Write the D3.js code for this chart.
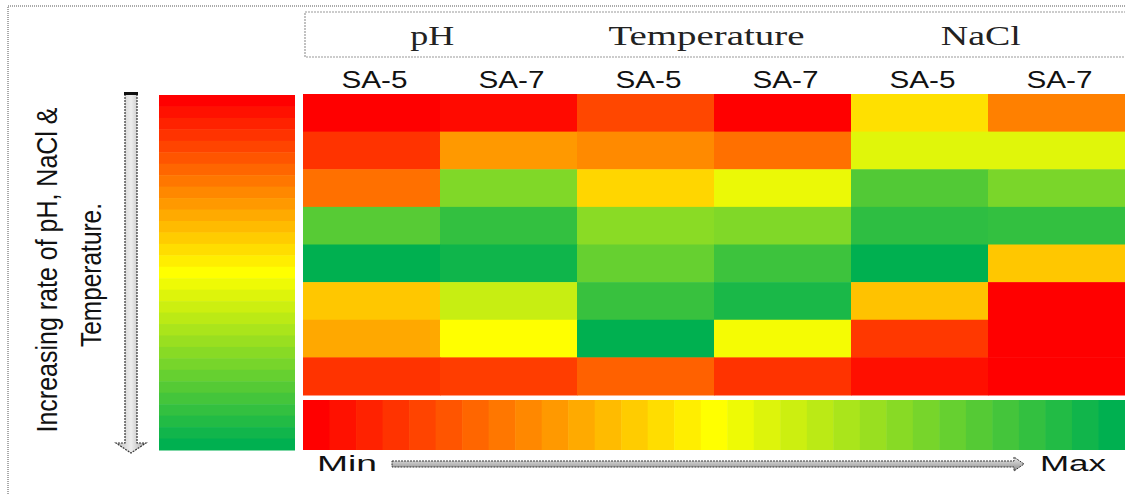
<!DOCTYPE html>
<html>
<head>
<meta charset="utf-8">
<script src="https://cdn.jsdelivr.net/npm/d3@7"></script>
<style>
  body { margin: 0; background: #fff; }
  svg { display: block; }
</style>
</head>
<body>
<svg id="drawing_region"></svg>
<script>
// treatments and strains (columns)
const groups = ["pH", "Temperature", "NaCl"];
const strains = ["SA-5", "SA-7"];
const columns = ["pH|SA-5", "pH|SA-7", "Temperature|SA-5", "Temperature|SA-7", "NaCl|SA-5", "NaCl|SA-7"];
const rows = ["r1", "r2", "r3", "r4", "r5", "r6", "r7", "r8"];

const row1 = [0.00, 0.02, 0.14, 0.00, 0.44, 0.25];
const row2 = [0.10, 0.30, 0.27, 0.22, 0.56, 0.56];
const row3 = [0.22, 0.75, 0.42, 0.54, 0.84, 0.76];
const row4 = [0.83, 0.90, 0.73, 0.75, 0.91, 0.90];
const row5 = [1.00, 0.97, 0.80, 0.88, 1.00, 0.39];
const row6 = [0.39, 0.61, 0.89, 0.95, 0.38, 0.00];
const row7 = [0.33, 0.50, 1.00, 0.52, 0.11, 0.00];
const row8 = [0.10, 0.12, 0.19, 0.10, 0.03, 0.00];
const values = [row1, row2, row3, row4, row5, row6, row7, row8];

// legend
const legendSteps = 31;
const yAxisLabel = ["Increasing rate of pH, NaCl &", "Temperature."];
const minLabel = "Min";
const maxLabel = "Max";

const W = 1125, H = 495;
const svg = d3.select("#drawing_region").attr("width", W).attr("height", H);

const color = d3.scaleLinear()
    .domain([0, 0.5, 1])
    .range(["#ff0000", "#ffff00", "#00b050"]);

// outer dotted frame (only top / left visible)
svg.append("rect")
    .attr("x", 8).attr("y", 6)
    .attr("width", W + 20).attr("height", H + 20)
    .attr("fill", "none")
    .attr("stroke", "#555")
    .attr("stroke-width", 1)
    .attr("stroke-dasharray", "1,1");

// heatmap
const xscale = d3.scaleBand().domain(columns).range([303, 1125]);
const yscale = d3.scaleBand().domain(rows).range([94, 395]);

const cells = [];
values.forEach((r, i) => r.forEach((v, j) => cells.push({ row: rows[i], col: columns[j], v: v })));

svg.append("g").selectAll("rect")
    .data(cells)
    .join("rect")
    .attr("x", d => xscale(d.col))
    .attr("y", d => yscale(d.row))
    .attr("width", xscale.bandwidth() + 0.5)
    .attr("height", yscale.bandwidth() + 0.5)
    .attr("fill", d => color(d.v));

// header box with treatment names
svg.append("rect")
    .attr("x", 305).attr("y", 12)
    .attr("width", 840).attr("height", 45)
    .attr("fill", "none")
    .attr("stroke", "#999")
    .attr("stroke-width", 1.2)
    .attr("stroke-dasharray", "2,1");

const gscale = d3.scaleBand().domain(groups).range([295, 1118]);
const groupLen = { "pH": 44, "Temperature": 196, "NaCl": 80 };

svg.append("g").selectAll("text")
    .data(groups)
    .join("text")
    .attr("x", d => gscale(d) + gscale.bandwidth() / 2)
    .attr("y", 45)
    .attr("text-anchor", "middle")
    .attr("font-family", "'Liberation Serif', 'Times New Roman', serif")
    .attr("font-size", 27)
    .attr("fill", "#222")
    .attr("textLength", d => groupLen[d])
    .attr("lengthAdjust", "spacingAndGlyphs")
    .text(d => d);

// strain labels
svg.append("g").selectAll("text")
    .data(columns)
    .join("text")
    .attr("x", d => xscale(d) + xscale.bandwidth() / 2 + 3)
    .attr("y", 88)
    .attr("text-anchor", "middle")
    .attr("font-family", "'Liberation Sans', Arial, sans-serif")
    .attr("font-size", 24)
    .attr("fill", "#111")
    .attr("textLength", 66)
    .attr("lengthAdjust", "spacingAndGlyphs")
    .text(d => d.split("|")[1]);

// vertical legend (red top -> green bottom)
const steps = d3.range(legendSteps);
const stepT = d3.scaleLinear().domain([0, legendSteps - 1]).range([0, 1]);
const vscale = d3.scaleBand().domain(steps).range([95, 450]);

svg.append("g").selectAll("rect")
    .data(steps)
    .join("rect")
    .attr("x", 159)
    .attr("y", d => vscale(d))
    .attr("width", 136)
    .attr("height", vscale.bandwidth() + 0.5)
    .attr("fill", d => color(stepT(d)));

// horizontal legend (Min -> Max)
const hscale = d3.scaleBand().domain(steps).range([303, 1125]);

svg.append("g").selectAll("rect")
    .data(steps)
    .join("rect")
    .attr("x", d => hscale(d))
    .attr("y", 400)
    .attr("width", hscale.bandwidth() + 0.5)
    .attr("height", 50)
    .attr("fill", d => color(stepT(d)));

// grey arrows
const defs = svg.append("defs");
const gv = defs.append("linearGradient").attr("id", "gv").attr("x1", 0).attr("x2", 1).attr("y1", 0).attr("y2", 0);
gv.append("stop").attr("offset", "0%").attr("stop-color", "#bdbdbd");
gv.append("stop").attr("offset", "50%").attr("stop-color", "#eeeeee");
gv.append("stop").attr("offset", "100%").attr("stop-color", "#a8a8a8");
const gh = defs.append("linearGradient").attr("id", "gh").attr("x1", 0).attr("x2", 0).attr("y1", 0).attr("y2", 1);
gh.append("stop").attr("offset", "0%").attr("stop-color", "#eeeeee");
gh.append("stop").attr("offset", "100%").attr("stop-color", "#8a8a8a");

svg.append("path")
    .attr("d", "M125,94 L137,94 L137,443 L146,443 L131,453 L116,443 L125,443 Z")
    .attr("fill", "url(#gv)")
    .attr("stroke", "#333")
    .attr("stroke-width", 1.2)
    .attr("stroke-dasharray", "2,1");
svg.append("rect")
    .attr("x", 124).attr("y", 92).attr("width", 14).attr("height", 3)
    .attr("fill", "#111");

svg.append("path")
    .attr("d", "M392,461 L1014,461 L1014,457 L1024,464 L1014,471 L1014,467 L392,467 Z")
    .attr("fill", "url(#gh)")
    .attr("stroke", "#333")
    .attr("stroke-width", 1)
    .attr("stroke-dasharray", "2,1");

// Min / Max labels
svg.append("text")
    .attr("x", 317).attr("y", 471)
    .attr("font-family", "'Liberation Sans', Arial, sans-serif")
    .attr("font-size", 22)
    .attr("fill", "#111")
    .attr("textLength", 60)
    .attr("lengthAdjust", "spacingAndGlyphs")
    .text(minLabel);

svg.append("text")
    .attr("x", 1040).attr("y", 471)
    .attr("font-family", "'Liberation Sans', Arial, sans-serif")
    .attr("font-size", 22)
    .attr("fill", "#111")
    .attr("textLength", 66)
    .attr("lengthAdjust", "spacingAndGlyphs")
    .text(maxLabel);

// rotated axis title
const titlePos = [{ x: 57, y: 270, len: 325 }, { x: 101, y: 275, len: 144 }];
svg.append("g").selectAll("text")
    .data(yAxisLabel)
    .join("text")
    .attr("transform", (d, i) => `translate(${titlePos[i].x}, ${titlePos[i].y}) rotate(-90)`)
    .attr("text-anchor", "middle")
    .attr("font-family", "'Liberation Sans', Arial, sans-serif")
    .attr("font-size", 29)
    .attr("fill", "#111")
    .attr("textLength", (d, i) => titlePos[i].len)
    .attr("lengthAdjust", "spacingAndGlyphs")
    .text(d => d);
</script>
</body>
</html>
